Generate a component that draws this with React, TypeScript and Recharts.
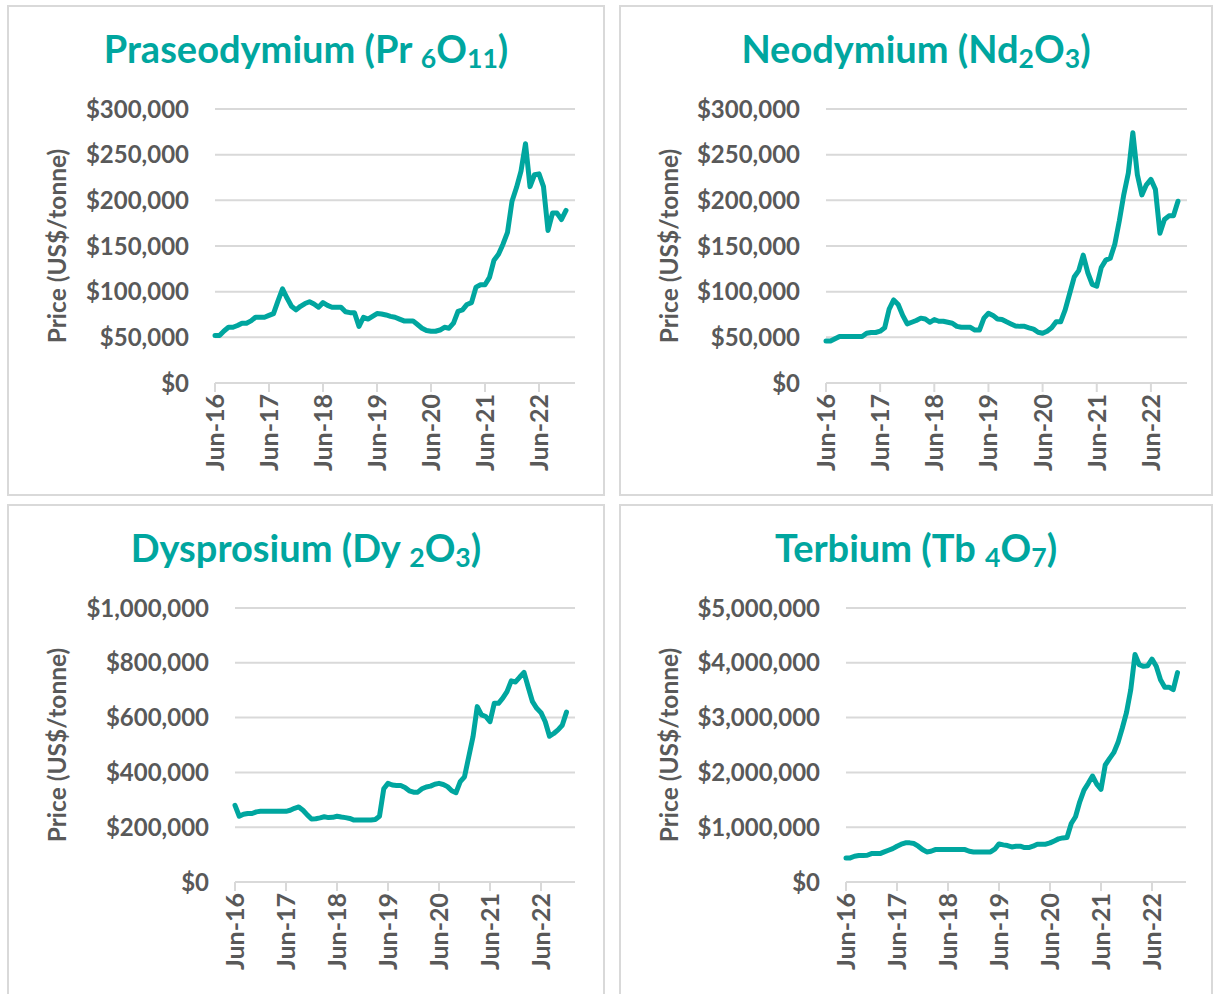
import React from 'react';
import { LineChart, Line, XAxis, YAxis, CartesianGrid } from 'recharts';

// x categories: month index, 0 = Jun-16 ... 78 = Dec-22
const MONTH_INDEX: number[] = Array.from({ length: 79 }, (_, i) => i);
const TICK_MONTHS = [0, 12, 24, 36, 48, 60, 72];
const TICK_LABELS = ['Jun-16', 'Jun-17', 'Jun-18', 'Jun-19', 'Jun-20', 'Jun-21', 'Jun-22'];

// prices in US$ thousand / tonne, monthly
const PR_PRICES_K = [
  52, 52, 57, 61, 61, 63, 65.5, 65.5, 68, 72, 72, 72, 74, 76, 90, 103, 93, 84, 80, 84,
  87, 89, 86.5, 83, 88, 85, 83, 83, 83, 78, 77, 77, 62, 72, 70, 73, 76, 75.5, 74.5, 73,
  72, 70, 68, 68, 68, 64, 60, 57.5, 56.7, 56.7, 58, 61, 60, 65.5, 78.5, 80, 86, 88, 105, 107.6,
  107.6, 115.6, 134.5, 141, 152, 165, 199, 214, 232, 262, 215, 228, 229, 215, 167, 186, 186, 179, 189,
];
const ND_PRICES_K = [
  46, 46, 48.5, 51, 51, 51, 51, 51, 51, 54.5, 55.3, 55.3, 56.7, 60.4, 81, 91, 86, 74, 64.7, 66.5,
  68.4, 71, 70, 66.5, 69.5, 67.6, 67.6, 66.5, 65.5, 62, 61, 61, 61, 58, 58, 71, 76.4, 74, 70, 69.5,
  67, 64.7, 62.5, 62, 62, 60.4, 59, 55.6, 54.5, 56.7, 60.4, 67, 67, 80, 98, 116, 123, 140, 121, 108,
  106, 126.5, 134.5, 136.7, 152, 177.5, 206.5, 230, 274, 228, 206, 217, 223, 212, 164, 179, 183, 183, 199,
];
const DY_PRICES_K = [
  280, 240, 247, 250, 250, 256, 258, 258, 258, 258, 258, 258, 258, 262, 269, 274, 262, 245, 230, 231,
  234, 238, 235, 236, 240, 237, 235, 232, 226, 226, 226, 226, 226, 228, 240, 340, 360, 354, 352, 352,
  345, 333, 328, 328, 340, 347, 350, 357, 360, 356, 348, 333, 326, 366, 384, 457, 530, 640, 610, 604,
  585, 652, 652, 671, 695, 734, 730, 748, 765, 711, 658, 634, 618, 585, 532, 542, 555, 572, 620,
];
const TB_PRICES_K = [
  440, 440, 470, 482, 482, 488, 518, 518, 518, 549, 580, 610, 653, 689, 714, 714, 702, 653, 592, 549,
  561, 592, 592, 592, 592, 592, 592, 592, 592, 561, 549, 549, 549, 549, 549, 598, 695, 677, 665, 640,
  653, 653, 628, 628, 653, 689, 689, 689, 714, 750, 787, 805, 811, 1067, 1190, 1464, 1677, 1800, 1934, 1787,
  1690, 2135, 2251, 2360, 2544, 2806, 3093, 3507, 4150, 3965, 3935, 3947, 4069, 3935, 3690, 3556, 3556, 3510, 3820,
];

const PR_TICKS = [0, 50000, 100000, 150000, 200000, 250000, 300000];
const ND_TICKS = [0, 50000, 100000, 150000, 200000, 250000, 300000];
const DY_TICKS = [0, 200000, 400000, 600000, 800000, 1000000];
const TB_TICKS = [0, 1000000, 2000000, 3000000, 4000000, 5000000];

const TEAL = '#00A69F';
const GRAY_TEXT = '#595959';
const GRID = '#D9D9D9';
const FONT = 'Lato, "Open Sans", sans-serif';

const buildRows = (values: number[]) =>
  MONTH_INDEX.map((m, i) => ({ m, price: values[i] * 1000 }));

const money = (v: number) => '$' + v.toLocaleString('en-US');

const XTick = (props: any) => {
  const { x, y, payload } = props;
  const idx = TICK_MONTHS.indexOf(payload.value);
  const label = idx >= 0 ? TICK_LABELS[idx] : '';
  return (
    <text
      x={x}
      y={y}
      transform={`rotate(-90, ${x}, ${y})`}
      textAnchor="end"
      dy="0.36em"
      fill={GRAY_TEXT}
      fontSize={25}
      fontWeight={700}
      fontFamily={FONT}
    >
      {label}
    </text>
  );
};

type PanelProps = {
  left: number;
  top: number;
  width: number;
  height: number;
  chartHeight: number;
  yAxisWidth: number;
  rightMargin: number;
  title: React.ReactNode;
  values: number[];
  ticks: number[];
};

const sub = (t: string) => (
  <span style={{ fontSize: '0.7em', verticalAlign: '-0.2em', lineHeight: 0 }}>{t}</span>
);

const Panel = ({ left, top, width, height, chartHeight, yAxisWidth, rightMargin, title, values, ticks }: PanelProps) => {
  const data = buildRows(values);
  const plotTop = 104;
  const plotBottom = 378;
  return (
    <div
      style={{
        position: 'absolute',
        left,
        top,
        width,
        height,
        boxSizing: 'border-box',
        boxShadow: `inset 0 0 0 2px ${GRID}`,
        background: '#fff',
      }}
    >
      <div
        style={{
          position: 'absolute',
          left: 0,
          top: 24,
          width: '100%',
          textAlign: 'center',
          fontFamily: FONT,
          fontWeight: 700,
          fontSize: 38,
          lineHeight: 1,
          color: TEAL,
          whiteSpace: 'nowrap',
        }}
      >
        {title}
      </div>
      <div style={{ position: 'absolute', left: 0, top: 0 }}>
        <LineChart
          width={width}
          height={chartHeight}
          data={data}
          margin={{ top: plotTop, right: rightMargin, left: 0, bottom: 0 }}
        >
          <CartesianGrid vertical={false} stroke={GRID} strokeWidth={2} />
          <XAxis
            dataKey="m"
            type="number"
            domain={[0, 80]}
            ticks={TICK_MONTHS}
            interval={0}
            height={chartHeight - plotBottom}
            axisLine={{ stroke: GRID, strokeWidth: 2 }}
            tickLine={{ stroke: GRID, strokeWidth: 2 }}
            tickSize={9}
            tickMargin={2}
            tick={<XTick />}
          />
          <YAxis
            type="number"
            domain={[ticks[0], ticks[ticks.length - 1]]}
            ticks={ticks}
            interval={0}
            width={yAxisWidth}
            axisLine={false}
            tickLine={false}
            tickSize={6}
            tickMargin={20}
            tickFormatter={money}
            tick={{ fill: GRAY_TEXT, fontSize: 24, fontWeight: 700, fontFamily: FONT }}
            label={{
              value: 'Price (US$/tonne)',
              angle: -90,
              position: 'insideLeft',
              offset: 50,
              style: { textAnchor: 'middle', fill: GRAY_TEXT, fontSize: 24.5, fontWeight: 700, fontFamily: FONT },
            }}
          />
          <Line
            type="linear"
            dataKey="price"
            stroke={TEAL}
            strokeWidth={5}
            dot={false}
            activeDot={false}
            strokeLinejoin="round"
            strokeLinecap="round"
            isAnimationActive={false}
          />
        </LineChart>
      </div>
    </div>
  );
};

export default function App() {
  return (
    <div
      style={{
        position: 'absolute',
        left: 0,
        top: 0,
        width: 1214,
        height: 994,
        overflow: 'hidden',
        background: '#fff',
      }}
    >
      <Panel
        left={7}
        top={5}
        width={598}
        height={491}
        chartHeight={491}
        yAxisWidth={208}
        rightMargin={30}
        values={PR_PRICES_K}
        ticks={PR_TICKS}
        title={<>Praseodymium (Pr {sub('6')}O{sub('11')})</>}
      />
      <Panel
        left={619}
        top={5}
        width={594}
        height={491}
        chartHeight={491}
        yAxisWidth={207}
        rightMargin={26}
        values={ND_PRICES_K}
        ticks={ND_TICKS}
        title={<>Neodymium (Nd{sub('2')}O{sub('3')})</>}
      />
      <Panel
        left={7}
        top={504}
        width={598}
        height={496}
        chartHeight={490}
        yAxisWidth={228}
        rightMargin={30}
        values={DY_PRICES_K}
        ticks={DY_TICKS}
        title={<>Dysprosium (Dy {sub('2')}O{sub('3')})</>}
      />
      <Panel
        left={619}
        top={504}
        width={594}
        height={496}
        chartHeight={490}
        yAxisWidth={227}
        rightMargin={27}
        values={TB_PRICES_K}
        ticks={TB_TICKS}
        title={<>Terbium (Tb {sub('4')}O{sub('7')})</>}
      />
    </div>
  );
}
